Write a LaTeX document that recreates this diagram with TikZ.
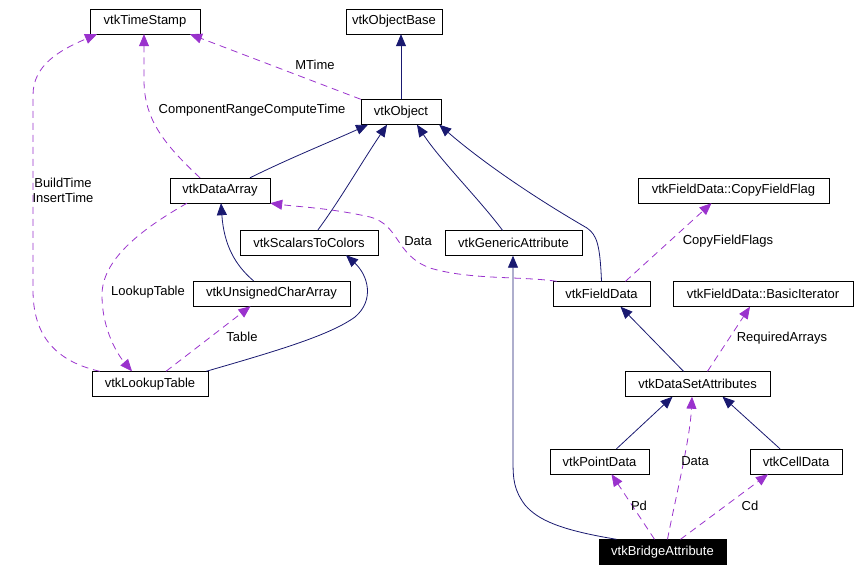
\documentclass[tikz,border=0pt]{standalone}
\usepackage{fontspec}
\setmainfont{Liberation Sans}
\usetikzlibrary{arrows.meta}
\definecolor{inhblue}{HTML}{191970}
\definecolor{usepurple}{HTML}{9A32CD}

\tikzstyle{cls}=[draw,rectangle,minimum height=25bp,inner sep=0pt,font=\fontsize{13bp}{15bp}\selectfont]
\tikzstyle{inherit} = [draw,inhblue,line width=0.8bp,-{Triangle[length=12bp,width=10bp]}]
\tikzstyle{usage} = [draw,usepurple,line width=0.8bp,dash pattern=on 7bp off 5bp,-{Triangle[length=12bp,width=10bp,sep=0pt]}]
\tikzstyle{role} = [font=\fontsize{13bp}{15bp}\selectfont,align=center,text=black]

\begin{document}
\begin{tikzpicture}[x=1bp,y=-1bp]
\useasboundingbox (0,0) rectangle (863,572);
\foreach \pos/\name/\bw/\txt in {{(145,21.5)/TS/110/vtkTimeStamp}, {(394,21.5)/OB/96/vtkObjectBase},
                         {(401,112)/O/80/vtkObject}, {(220,190.5)/DA/100/vtkDataArray},
                         {(309,242.5)/STC/138/vtkScalarsToColors}, {(513.5,243)/GA/137/vtkGenericAttribute},
                         {(601.5,294)/FD/97/vtkFieldData}, {(733.5,190.5)/CFF/191/vtkFieldData::CopyFieldFlag},
                         {(763,294)/BI/180/vtkFieldData::BasicIterator}, {(697.5,384)/DSA/145/vtkDataSetAttributes},
                         {(271.5,293.5)/UCA/157/vtkUnsignedCharArray}, {(150,384)/LT/116/vtkLookupTable},
                         {(599.5,461.5)/PD/99/vtkPointData}, {(796,461.5)/CD/92/vtkCellData}}{
  \node[cls,minimum width=\bw bp] (\name) at \pos {\txt};
}
\node[cls,minimum width=127bp,fill=black,text=white] (BA) at (662.5,552) {vtkBridgeAttribute};

% inheritance
\path[inherit] (O.north) -- (O.north |- OB.south);
\path[inherit] ([xshift=30bp]DA.north) .. controls (290,158) and (330,142) .. ([xshift=-33bp]O.south);
\path[inherit] ([xshift=9bp]STC.north) .. controls (340,200) and (360,165) .. ([xshift=-14bp]O.south);
\path[inherit] ([xshift=-11bp]GA.north) .. controls (480,200) and (440,160) .. ([xshift=16bp]O.south);
\path[inherit] (FD.north) .. controls (600,245) and (597,235) .. (587,228) .. controls (530,195) and (480,160) .. ([xshift=-2bp]O.south east);
\path[inherit] ([xshift=-18bp]UCA.north) .. controls (235,265) and (224,245) .. ([xshift=1bp]DA.south);
\path[inherit] ([xshift=-2bp]LT.north east) .. controls (280,350) and (330,335) .. (355,317) .. controls (375,300) and (368,275) .. ([xshift=37bp]STC.south);
\path[inherit] ([xshift=-14bp]DSA.north) -- ([xshift=19bp]FD.south);
\path[inherit] ([xshift=17bp]PD.north) -- ([xshift=-25bp]DSA.south);
\path[inherit] ([xshift=-16bp]CD.north) -- ([xshift=25bp]DSA.south);
\path[inherit] ([xshift=-46bp]BA.north) .. controls (560,530) and (538,520) .. (525,505) .. controls (514,490) and (513,480) .. (513,460) -- ([xshift=-0.5bp]GA.south);

% usage
\path[usage] (O.north west) -- ([xshift=45bp]TS.south);
\node[role] (lblO) at (315,65) {MTime};
\path[usage] ([xshift=-20bp]DA.north) .. controls (165,145) and (144,120) .. (144,80) -- ([xshift=-1bp]TS.south);
\node[role] (lblDA) at (252,110) {ComponentRangeComputeTime};
\path[usage] ([xshift=8bp]LT.north west) .. controls (50,360) and (33,330) .. (33,290) -- (33,95) .. controls (33,65) and (60,50) .. ([xshift=-48bp]TS.south);
\node[role] (lblTS) at (63,190) {BuildTime\\InsertTime};
\path[usage] ([xshift=-33bp]DA.south) .. controls (140,230) and (102,260) .. (102,295) .. controls (102,330) and (118,355) .. ([xshift=-18bp]LT.north);
\node[role] (lblLT) at (148,292) {LookupTable};
\path[usage] ([xshift=16bp]LT.north) -- ([xshift=-21bp]UCA.south);
\node[role] (lblUCA) at (242,337) {Table};
\path[usage] ([xshift=4bp]FD.north west) .. controls (520,276) and (470,280) .. (430,268) .. controls (395,255) and (400,225) .. (370,217) .. controls (330,208) and (300,207) .. (DA.south east);
\node[role] (lblFD) at (418,241) {Data};
\path[usage] ([xshift=24bp]FD.north) -- ([xshift=-22bp]CFF.south);
\node[role] (lblCFF) at (728,241) {CopyFieldFlags};
\path[usage] ([xshift=10bp]DSA.north) -- ([xshift=-13bp]BI.south);
\node[role] (lblBI) at (782,338) {RequiredArrays};
\path[usage] ([xshift=5bp]BA.north) .. controls (675,500) and (690,440) .. ([xshift=-5.5bp]DSA.south);
\node[role] (lblDSA) at (695,461) {Data};
\path[usage] ([xshift=-8bp]BA.north) -- ([xshift=12bp]PD.south);
\node[role] (lblPD) at (639,506) {Pd};
\path[usage] ([xshift=18bp]BA.north) -- ([xshift=-28bp]CD.south);
\node[role] (lblCD) at (750,506) {Cd};
\end{tikzpicture}
\end{document}
